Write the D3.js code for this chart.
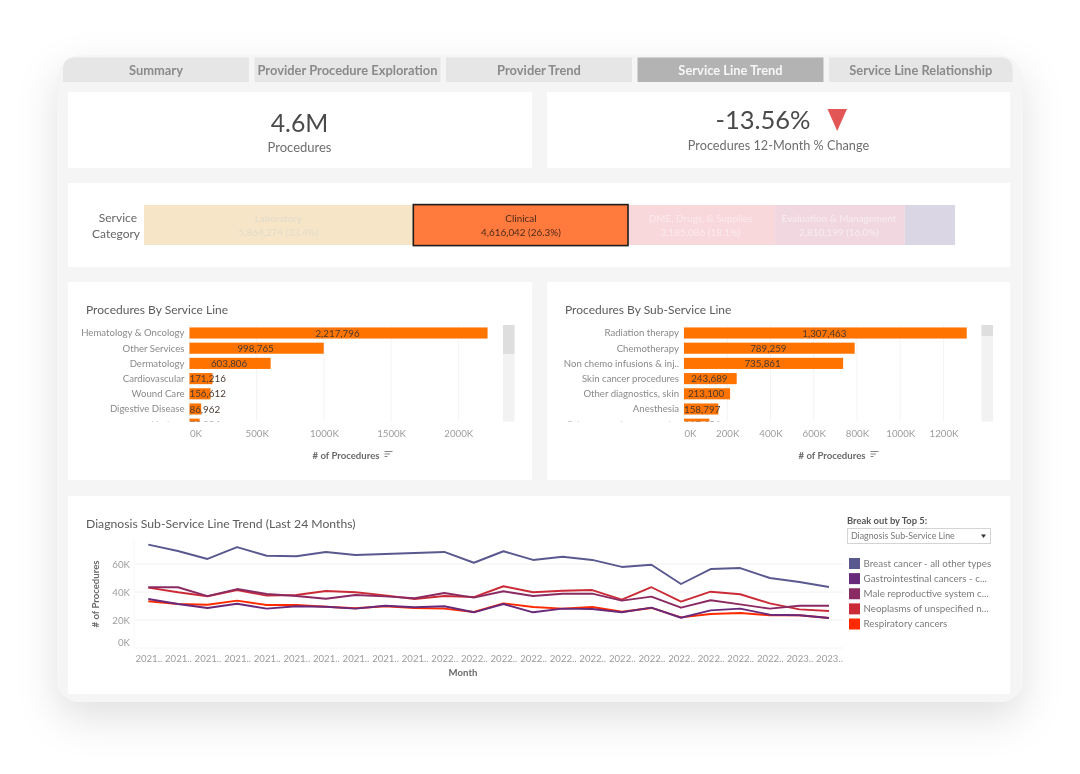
<!DOCTYPE html>
<html><head><meta charset="utf-8">
<script src="https://cdnjs.cloudflare.com/ajax/libs/d3/7.8.5/d3.min.js"></script>
<style>
html,body{margin:0;padding:0;background:#fff;width:1080px;height:774px;overflow:hidden}
svg{display:block;filter:blur(0.35px)}
text{font-family:Lato,"Open Sans",sans-serif}
</style></head><body><svg id="c" width="1080" height="774"></svg>
<script>
const tabs=["Summary","Provider Procedure Exploration","Provider Trend","Service Line Trend","Service Line Relationship"];
const categoryNames=["Laboratory","Clinical","DME, Drugs, & Supplies","Evaluation & Management",""];
const categoryValues=[5864274,4616042,3185086,2810199,1085000];
const categoryShares=["33.4%","26.3%","18.1%","16.0%",""];
const categoryColors=["#f6e5c6","#ff7a3c","#f8d8da","#f1d7e0","#dad6e3"];
const serviceLines=["Hematology & Oncology","Other Services","Dermatology","Cardiovascular","Wound Care","Digestive Disease","Urology"];
const serviceValues=[2217796,998765,603806,171216,156612,86962,75234];
const serviceTicks=[0,500000,1000000,1500000,2000000];
const subLines=["Radiation therapy","Chemotherapy","Non chemo infusions & inj..","Skin cancer procedures","Other diagnostics, skin","Anesthesia","Other procedures, vascular"];
const subValues=[1307463,789259,735861,243689,213100,158797,117456];
const subTicks=[0,200000,400000,600000,800000,1000000,1200000];
const monthLabels=["2021..","2021..","2021..","2021..","2021..","2021..","2021..","2021..","2021..","2021..","2022..","2022..","2022..","2022..","2022..","2022..","2022..","2022..","2022..","2022..","2022..","2022..","2023..","2023.."];
const trendNames=["Breast cancer - all other types","Gastrointestinal cancers - c...","Male reproductive system c...","Neoplasms of unspecified n...","Respiratory cancers"];
const trendColors=["#59598f","#68297a","#8a2a62","#cb2b36","#ff2a00"];
const breast=[73.8,69.3,63.6,72.1,65.9,65.5,68.6,66.4,67.1,67.9,68.6,60.9,69.1,62.9,65.2,62.9,57.9,59.5,45.7,56.4,57.1,50,47.1,43.6];
const gastro=[35,31.4,28.6,31.6,28.1,29.8,29.5,28.1,30.2,29.1,29.8,25.5,31.4,25.5,28.1,27.9,25.5,28.8,21.6,26.9,28.1,23.8,23.4,21.4];
const male=[43.4,43.4,37.1,42.1,38.6,37.1,35.2,37.9,36.9,35.5,39.3,36,40.5,37.1,38.8,38.8,33.8,36.7,28.8,34.1,31.2,28.1,30.2,30.2];
const neoplasm=[43.1,39.8,37,41.4,37.4,37.9,40.7,39.8,37.6,35,37.1,36.4,44.1,39.8,40.9,41.4,34.5,43.4,33.1,40.2,38.4,31.9,27.6,26.4];
const respiratory=[33.4,31.4,30.9,33.8,30.7,30.7,29.5,28.4,29.8,28.6,28.1,25.7,31.9,29.3,28.1,29.3,25.9,28.6,21.9,24.3,25,23.4,23.4,21.4];
const trendTicks=[0,20,40,60];

const svg=d3.select("#c");
const defs=svg.append("defs");
const sh=defs.append("filter").attr("id","sh").attr("x","-15%").attr("y","-15%").attr("width","130%").attr("height","135%");
sh.append("feDropShadow").attr("dx",0).attr("dy",16).attr("stdDeviation",20).attr("flood-color","#000").attr("flood-opacity",0.12);
svg.append("rect").attr("x",57).attr("y",55).attr("width",966).attr("height",647).attr("rx",24).attr("fill","#f5f5f5").attr("filter","url(#sh)");

// tabs
const tabX=d3.scaleBand().domain(tabs).range([63,1015]).paddingInner(0.029).paddingOuter(0);
tabs.forEach((t,i)=>{
  const x=tabX(t),w=tabX.bandwidth()-(i===4?2.5:0),y=57.5,h=24.5,r=12,on=i===3;
  let p;
  if(i===0)p=`M${x},${y+h}V${y+r}Q${x},${y} ${x+r},${y}H${x+w}V${y+h}Z`;
  else if(i===4)p=`M${x},${y}H${x+w-r}Q${x+w},${y} ${x+w},${y+r}V${y+h}H${x}Z`;
  else p=`M${x},${y}H${x+w}V${y+h}H${x}Z`;
  svg.append("path").attr("d",p).attr("fill",on?"#b3b3b3":"#e6e6e6");
  svg.append("text").attr("x",x+w/2).attr("y",74.8).attr("text-anchor","middle").attr("font-size",12.9).attr("font-weight",700)
    .attr("fill",on?"#f7f7f7":"#8a8a8a").text(t);
});

// cards
[[68,92,464,76],[547,92,463,76],[68,183,942,84],[68,282,464,198],[547,282,463,198],[68,496,942,198]].forEach(c=>
  svg.append("rect").attr("x",c[0]).attr("y",c[1]).attr("width",c[2]).attr("height",c[3]).attr("fill","#fff"));

// KPIs
svg.append("text").attr("x",299.5).attr("y",132).attr("text-anchor","middle").attr("font-size",24.8).attr("fill","#4a4a4a").text("4.6M");
svg.append("text").attr("x",299.5).attr("y",152).attr("text-anchor","middle").attr("font-size",13).attr("fill","#6e6e6e").text("Procedures");
svg.append("text").attr("x",763).attr("y",129).attr("text-anchor","middle").attr("font-size",25.5).attr("fill","#4a4a4a").text("-13.56%");
svg.append("path").attr("d","M827.5,109H847L837.2,131Z").attr("fill","#e35656");
svg.append("text").attr("x",778.5).attr("y",150).attr("text-anchor","middle").attr("font-size",12.7).attr("fill","#6e6e6e").text("Procedures 12-Month % Change");

// service category strip
svg.append("text").attr("x",137).attr("y",222).attr("text-anchor","end").attr("font-size",12).attr("fill","#666").text("Service");
svg.append("text").attr("x",140).attr("y",237.5).attr("text-anchor","end").attr("font-size",12).attr("fill","#666").text("Category");
const catX=d3.scaleLinear().domain([0,d3.sum(categoryValues)]).range([144,955]);
let cum=0;
const fmt=d3.format(",");
const catText=["#e3dccb","#4b2a1c","#fbeaec","#f8ecf1",""];
const catEnds=categoryValues.map(v=>(cum+=v));
categoryValues.forEach((v,i)=>{
  const x0=catX(catEnds[i]-v),x1=catX(catEnds[i]);
  svg.append("rect").attr("x",x0).attr("y",205).attr("width",x1-x0).attr("height",40).attr("fill",categoryColors[i]);
});
categoryValues.forEach((v,i)=>{
  const x0=catX(catEnds[i]-v),x1=catX(catEnds[i]);
  if(i===1)svg.append("rect").attr("x",x0-1.5).attr("y",204.6).attr("width",x1-x0+1.5).attr("height",41).attr("fill",categoryColors[1]).attr("stroke","#1d1d1d").attr("stroke-width",1.6);
  if(categoryNames[i]){
    const cx=i===1?(x0+x1)/2-0.5:(x0+x1)/2-1;
    svg.append("text").attr("x",cx).attr("y",221.5).attr("text-anchor","middle").attr("font-size",9.9).attr("fill",catText[i]).text(categoryNames[i]);
    svg.append("text").attr("x",cx).attr("y",235.5).attr("text-anchor","middle").attr("font-size",9.9).attr("fill",catText[i]).text(`${fmt(v)} (${categoryShares[i]})`);
  }
});

// bar panels
function barPanel(o){
  svg.append("text").attr("x",o.titleX).attr("y",314).attr("font-size",12).attr("fill","#5c5c5c").text(o.title);
  const x=d3.scaleLinear().domain([0,o.max]).range([o.x0,o.x1]);
  const step=15.2, top=325.4;
  const y=d3.scaleBand().domain(o.names).range([top,top+step*o.names.length]).paddingInner(0.27).paddingOuter(0.135);
  const clipId="clip"+o.id;
  defs.append("clipPath").attr("id",clipId).append("rect").attr("x",o.titleX-10).attr("y",322).attr("width",440).attr("height",99.5);
  const g=svg.append("g");
  const ax=d3.axisBottom(x).tickValues(o.ticks).tickFormat(d=>(d/1000)+"K").tickSize(0).tickPadding(0);
  o.ticks.forEach(t=>g.append("line").attr("x1",x(t)).attr("x2",x(t)).attr("y1",325).attr("y2",421).attr("stroke","#f3f3f3"));
  const ag=g.append("g").attr("transform","translate(0,421)").call(ax);
  ag.select(".domain").remove();
  ag.selectAll("text").attr("font-size",9.7).attr("fill","#9c9c9c").attr("dy",0).attr("y",15.5).attr("x",0)
    .attr("text-anchor",d=>d===0?"start":"middle");
  const c=svg.append("g").attr("clip-path",`url(#${clipId})`);
  c.selectAll("rect").data(o.values).join("rect").attr("x",x(0)).attr("y",(d,i)=>y(o.names[i])).attr("width",d=>x(d)-x(0)).attr("height",y.bandwidth()).attr("fill","#ff7300");
  c.selectAll(".n").data(o.names).join("text").attr("class","n").attr("x",x(0)-5).attr("y",d=>y(d)+y.bandwidth()/2+3.4).attr("text-anchor","end").attr("font-size",9.6).attr("fill","#8a8a8a").text(d=>d);
  c.selectAll(".v").data(o.values).join("text").attr("class","v").attr("y",(d,i)=>y(o.names[i])+y.bandwidth()/2+3.6).attr("text-anchor","middle").attr("font-size",9.8).attr("fill","#4a3a30")
    .text(d=>fmt(d)).each(function(d){
      const half=this.getComputedTextLength()/2;
      d3.select(this).attr("x",Math.max((x(d)+x(0))/2-1,x(0)+half));
    });
  svg.append("rect").attr("x",o.sbX).attr("y",325).attr("width",11.5).attr("height",96.5).attr("fill","#f2f2f2");
  svg.append("rect").attr("x",o.sbX).attr("y",325).attr("width",11.5).attr("height",o.thumb).attr("fill","#dedede");
  svg.append("text").attr("x",o.axisX).attr("y",458.5).attr("text-anchor","middle").attr("font-size",9.6).attr("font-weight",700).attr("fill","#6a6a6a").text("# of Procedures");
  const ix=o.axisX+38.5;
  [[8,451.5],[5.5,454],[3,456.5]].forEach(s=>svg.append("line").attr("x1",ix).attr("x2",ix+s[0]).attr("y1",s[1]).attr("y2",s[1]).attr("stroke","#777").attr("stroke-width",0.9));
}
barPanel({id:"a",title:"Procedures By Service Line",titleX:86,names:serviceLines,values:serviceValues,ticks:serviceTicks,max:2000000,x0:189.5,x1:458.3,sbX:503,thumb:29,axisX:346});
barPanel({id:"b",title:"Procedures By Sub-Service Line",titleX:565,names:subLines,values:subValues,ticks:subTicks,max:1200000,x0:684,x1:943.5,sbX:981.5,thumb:11,axisX:832});

// trend
svg.append("text").attr("x",86).attr("y",528).attr("font-size",12.2).attr("fill","#5c5c5c").text("Diagnosis Sub-Service Line Trend (Last 24 Months)");
const tx=d3.scaleLinear().domain([0,23]).range([148.3,829]);
const ty=d3.scaleLinear().domain([0,60]).range([648,564]);
trendTicks.slice(1).forEach(t=>svg.append("line").attr("x1",135).attr("x2",843).attr("y1",ty(t)).attr("y2",ty(t)).attr("stroke","#f2f2f2"));
svg.append("line").attr("x1",134).attr("x2",843).attr("y1",648).attr("y2",648).attr("stroke","#f4f4f4");
svg.append("line").attr("x1",134).attr("x2",134).attr("y1",540).attr("y2",648).attr("stroke","#f6f6f6");
const ya=svg.append("g").attr("transform","translate(130,0)").call(d3.axisLeft(ty).tickValues(trendTicks).tickFormat(d=>d+"K").tickSize(0).tickPadding(0));
ya.select(".domain").remove();
ya.selectAll("text").attr("font-size",9.7).attr("fill","#9c9c9c").attr("dy",(d)=>d===0?"-0.3em":"0.32em");
const xa=svg.append("g").attr("transform","translate(0,648)").call(d3.axisBottom(tx).tickValues(d3.range(24)).tickFormat(i=>monthLabels[i]).tickSize(0).tickPadding(0));
xa.select(".domain").remove();
xa.selectAll("text").attr("font-size",9.6).attr("fill","#9c9c9c").attr("y",7).attr("dy","0.71em");
svg.append("text").attr("x",463).attr("y",676).attr("text-anchor","middle").attr("font-size",9.6).attr("font-weight",700).attr("fill","#6a6a6a").text("Month");
svg.append("text").attr("transform","translate(98.5,594) rotate(-90)").attr("text-anchor","middle").attr("font-size",9.6).attr("font-weight",700).attr("fill","#6a6a6a").text("# of Procedures");
const line=d3.line().x((d,i)=>tx(i)).y(d=>ty(d));
[respiratory,neoplasm,male,gastro,breast].forEach((s,k)=>{
  const idx=[4,3,2,1,0][k];
  svg.append("path").datum(s).attr("d",line).attr("fill","none").attr("stroke",trendColors[idx]).attr("stroke-width",1.9).attr("stroke-linejoin","round");
});

// legend
svg.append("text").attr("x",847).attr("y",524).attr("font-size",9.4).attr("font-weight",700).attr("fill","#555").text("Break out by Top 5:");
svg.append("rect").attr("x",847.5).attr("y",528.5).attr("width",143).attr("height",15).attr("fill","#fff").attr("stroke","#d4d4d4");
svg.append("text").attr("x",851).attr("y",539).attr("font-size",8.8).attr("fill","#777").text("Diagnosis Sub-Service Line");
svg.append("path").attr("d","M981,534.5H986L983.5,538Z").attr("fill","#333");
const ly=d3.scalePoint().domain(trendNames).range([563.5,624]);
svg.selectAll(".sw").data(trendNames).join("rect").attr("class","sw").attr("x",849).attr("y",d=>ly(d)-5.5).attr("width",11).attr("height",11).attr("fill",(d,i)=>trendColors[i]);
svg.selectAll(".lt").data(trendNames).join("text").attr("class","lt").attr("x",863.5).attr("y",d=>ly(d)+3.3).attr("font-size",9.8).attr("fill","#7c7c7c").text(d=>d);
</script></body></html>
